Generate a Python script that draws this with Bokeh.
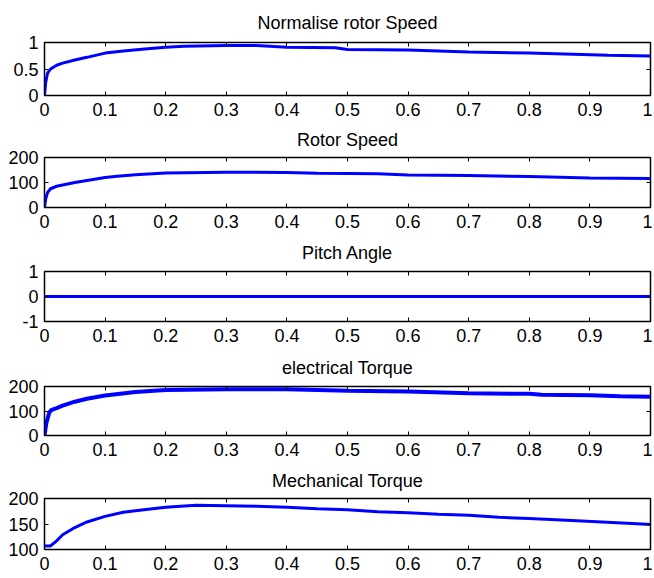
from bokeh.plotting import figure
from bokeh.layouts import column
from bokeh.models import FixedTicker, LinearAxis, Range1d
from bokeh.embed import file_html
from bokeh.resources import INLINE

# ---------------- data ----------------
time_norm = [0, 0.002, 0.005, 0.01, 0.02, 0.03, 0.05, 0.07, 0.1, 0.13, 0.17, 0.2, 0.23,
             0.3, 0.35, 0.4, 0.48, 0.5, 0.6, 0.7, 0.8, 0.93, 1.0]
norm_speed = [0, 0.25, 0.42, 0.5, 0.57, 0.61, 0.67, 0.72, 0.8, 0.84, 0.88, 0.91, 0.93,
              0.945, 0.945, 0.91, 0.9, 0.87, 0.86, 0.82, 0.8, 0.76, 0.745]

time_rotor = [0, 0.002, 0.005, 0.01, 0.02, 0.03, 0.05, 0.07, 0.1, 0.12, 0.15, 0.2, 0.3,
              0.4, 0.45, 0.55, 0.6, 0.7, 0.8, 0.9, 1.0]
rotor_speed = [0, 35, 60, 75, 85, 90, 100, 108, 120, 125, 131, 138, 141,
               140, 137, 135, 130, 128, 124, 118, 116]

time_pitch = [0, 1.0]
pitch_angle = [0, 0]

time_elec = [0, 0.003, 0.008, 0.012, 0.02, 0.03, 0.05, 0.07, 0.1, 0.15, 0.2, 0.3, 0.4,
             0.45, 0.5, 0.6, 0.7, 0.8, 0.82, 0.9, 0.95, 1.0]
elec_torque = [0, 50, 95, 105, 112, 122, 138, 150, 163, 178, 186, 189, 189,
               186, 183, 180, 172, 170, 166, 164, 160, 158]

time_mech = [0, 0.01, 0.02, 0.03, 0.05, 0.07, 0.1, 0.13, 0.15, 0.2, 0.25, 0.3, 0.35,
             0.4, 0.45, 0.5, 0.55, 0.6, 0.65, 0.7, 0.75, 0.8, 0.87, 0.92, 0.97, 1.0]
mech_torque = [107, 107, 117, 129, 143, 154, 165, 173, 176, 183, 187, 186, 185,
               183, 180, 178, 174, 172, 169, 167, 163, 161, 157, 154, 151, 149]

titles = ["Normalise rotor Speed", "Rotor Speed", "Pitch Angle",
          "electrical Torque", "Mechanical Torque"]

x_ticks = [0, 0.1, 0.2, 0.3, 0.4, 0.5, 0.6, 0.7, 0.8, 0.9, 1.0]
x_tick_labels = ["0", "0.1", "0.2", "0.3", "0.4", "0.5", "0.6", "0.7", "0.8", "0.9", "1"]

y_ticks = [[0, 0.5, 1], [0, 100, 200], [-1, 0, 1], [0, 100, 200], [100, 150, 200]]
y_tick_labels = [["0", "0.5", "1"], ["0", "100", "200"], ["-1", "0", "1"],
                 ["0", "100", "200"], ["100", "150", "200"]]

series = [(time_norm, norm_speed), (time_rotor, rotor_speed), (time_pitch, pitch_angle),
          (time_elec, elec_torque), (time_mech, mech_torque)]

# ---------------- layout ----------------
FONT = "Liberation Sans"
W = 652
tops = [42, 36, 38, 39, 37]
frame_h = [53, 51, 51, 50, 52]
bottoms = [25, 25, 25, 25, 28]
title_standoffs = [20, 15, 17, 18, 16]
line_widths = [3, 3, 3, 4, 3]

figs = []
for i in range(5):
    xs, ys = series[i]
    yt = y_ticks[i]
    p = figure(width=W, height=tops[i] + frame_h[i] + bottoms[i],
               x_range=Range1d(0, 1), y_range=Range1d(yt[0], yt[-1]),
               output_backend="svg", toolbar_location=None,
               min_border_left=44, min_border_right=2,
               min_border_top=tops[i], min_border_bottom=bottoms[i])
    p.title.text = titles[i]
    p.title.align = "center"
    p.title.text_font = FONT
    p.title.text_font_size = "18px"
    p.title.text_font_style = "normal"
    p.title.text_color = "black"
    p.title.standoff = title_standoffs[i]
    p.xgrid.visible = False
    p.ygrid.visible = False
    p.outline_line_color = "black"
    p.outline_line_width = 1.5
    p.background_fill_color = "white"
    p.border_fill_color = "white"

    xa = p.xaxis[0]
    xa.ticker = FixedTicker(ticks=x_ticks)
    xa.major_label_overrides = dict(zip(x_ticks, x_tick_labels))
    ya = p.yaxis[0]
    ya.ticker = FixedTicker(ticks=yt)
    ya.major_label_overrides = dict(zip(yt, y_tick_labels[i]))
    for ax in (xa, ya):
        ax.major_label_text_font = FONT
        ax.major_label_text_font_size = "18px"
        ax.major_label_text_color = "black"
        ax.major_tick_in = 4
        ax.major_tick_out = 0
        ax.minor_tick_line_color = None
        ax.axis_line_color = "black"
        ax.major_tick_line_color = "black"
    xa.major_label_standoff = 7
    xa.major_label_text_line_height = 0.9
    ya.major_label_standoff = 6

    top_ax = LinearAxis(ticker=FixedTicker(ticks=x_ticks), major_label_text_font_size="0px",
                        major_tick_in=4, major_tick_out=0, major_label_standoff=0,
                        minor_tick_line_color=None, axis_line_color="black",
                        major_tick_line_color="black")
    top_ax.major_label_overrides = {t: "" for t in x_ticks}
    p.add_layout(top_ax, "above")
    right_ax = LinearAxis(ticker=FixedTicker(ticks=yt), major_label_text_font_size="0px",
                          major_tick_in=4, major_tick_out=0, major_label_standoff=0,
                          minor_tick_line_color=None, axis_line_color="black",
                          major_tick_line_color="black")
    right_ax.major_label_overrides = {t: "" for t in yt}
    p.add_layout(right_ax, "right")

    p.line(xs, ys, line_color="#0000ff", line_width=line_widths[i])
    figs.append(p)

layout = column(*figs, spacing=0)
open("out.html", "w").write(file_html(layout, INLINE))
